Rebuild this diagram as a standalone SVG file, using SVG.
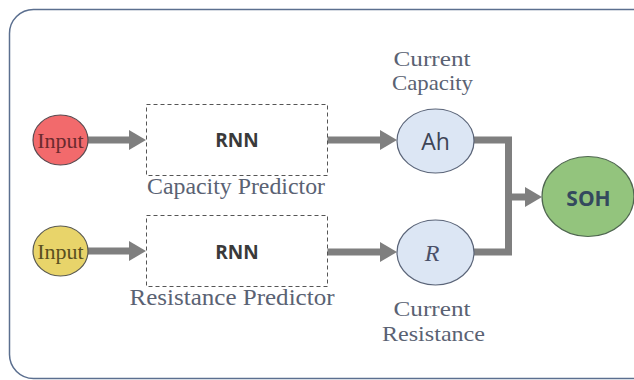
<svg xmlns="http://www.w3.org/2000/svg" width="634" height="380" viewBox="0 0 634 380">
<defs>
<marker id="ah" viewBox="0 -10 17 20" markerWidth="17" markerHeight="20" refX="0" refY="0" orient="auto" markerUnits="userSpaceOnUse">
<path d="M0,-10 L17,0 L0,10 z" fill="#7f7f7f"/>
</marker>
</defs>
<style>
.frame{fill:#ffffff;stroke:#5b6f8f;stroke-width:1.5}
.box{fill:#ffffff;stroke:#555555;stroke-width:1;stroke-dasharray:4 3}
.conn{fill:none;stroke:#7f7f7f;stroke-width:7}
.serif{font-family:"Liberation Serif","Times New Roman",serif}
.sans{font-family:"Open Sans","Liberation Sans",Arial,sans-serif}
.lbl{font-size:23px;fill:#5a6273;text-anchor:middle}
.lbl2{font-size:22px;fill:#5a6273;text-anchor:middle}
.inp{font-size:22px;text-anchor:middle}
.blue{fill:#dce6f4;stroke:#5a6478;stroke-width:1.2}
</style>
<rect class="frame" x="9.5" y="9.5" width="650" height="369" rx="24"/>
<g id="connectors">
<path class="conn" d="M88,140 H129" marker-end="url(#ah)"/>
<path class="conn" d="M88,251 H129" marker-end="url(#ah)"/>
<path class="conn" d="M327,140 H380" marker-end="url(#ah)"/>
<path class="conn" d="M327,252 H380" marker-end="url(#ah)"/>
<path class="conn" d="M474,140 H508.5 V252 H474"/>
<path class="conn" d="M508.5,197 H525" marker-end="url(#ah)"/>
</g>
<g id="input1">
<ellipse cx="60.5" cy="140" rx="27.5" ry="25" fill="#f26a6c" stroke="#5a4a50" stroke-width="1.2"/>
<text class="serif inp" x="60.5" y="147.5" fill="#6b2a2e">Input</text>
</g>
<g id="input2">
<ellipse cx="60.5" cy="251" rx="27.5" ry="25" fill="#e8d46a" stroke="#5a5a50" stroke-width="1.2"/>
<text class="serif inp" x="60.5" y="258.5" fill="#5a5020">Input</text>
</g>
<g id="rnn1">
<rect class="box" x="146.5" y="104.5" width="181" height="71"/>
<text class="sans" x="237" y="147" font-size="19" font-weight="bold" fill="#3a3a3a" text-anchor="middle">RNN</text>
<text class="serif lbl" x="236" y="194" textLength="178" lengthAdjust="spacingAndGlyphs">Capacity Predictor</text>
</g>
<g id="rnn2">
<rect class="box" x="146.5" y="215.5" width="181" height="71"/>
<text class="sans" x="237" y="259" font-size="19" font-weight="bold" fill="#3a3a3a" text-anchor="middle">RNN</text>
<text class="serif lbl" x="232" y="305" textLength="205" lengthAdjust="spacingAndGlyphs">Resistance Predictor</text>
</g>
<g id="ah-node">
<ellipse class="blue" cx="435.5" cy="141" rx="38.5" ry="32"/>
<text class="sans" x="435.5" y="150" font-size="23" fill="#3d4456" text-anchor="middle">Ah</text>
<text class="serif lbl2" x="432" y="66" textLength="77" lengthAdjust="spacingAndGlyphs">Current</text>
<text class="serif lbl2" x="432.5" y="90" textLength="81" lengthAdjust="spacingAndGlyphs">Capacity</text>
</g>
<g id="r-node">
<ellipse class="blue" cx="435.5" cy="252.5" rx="38.5" ry="32.5"/>
<text class="serif" x="432" y="261" font-size="24" font-style="italic" fill="#4a5068" text-anchor="middle">R</text>
<text class="serif lbl2" x="432" y="316" textLength="77" lengthAdjust="spacingAndGlyphs">Current</text>
<text class="serif lbl2" x="433.5" y="341" textLength="103" lengthAdjust="spacingAndGlyphs">Resistance</text>
</g>
<g id="soh">
<ellipse cx="588" cy="196.5" rx="46" ry="40" fill="#93c47d" stroke="#4f6650" stroke-width="1.2"/>
<text class="sans" x="588.5" y="206" font-size="21" font-weight="bold" fill="#34495e" text-anchor="middle">SOH</text>
</g>
</svg>
